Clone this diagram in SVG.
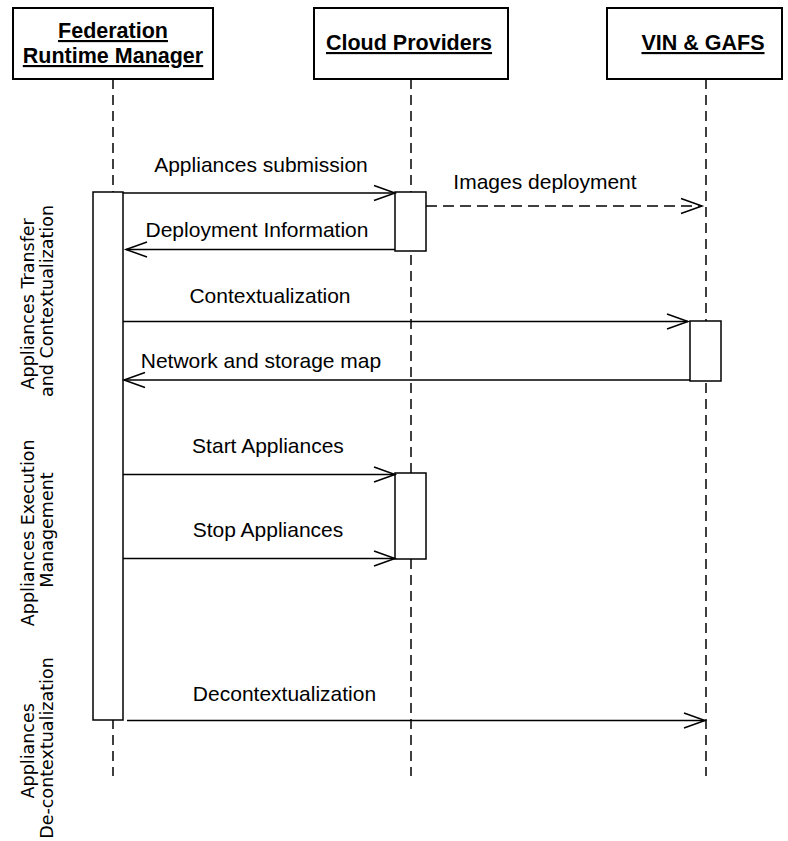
<svg xmlns="http://www.w3.org/2000/svg" width="788" height="841" viewBox="0 0 788 841">
  <style>
    .hdr { fill: #fff; stroke: #000; stroke-width: 2; }
    .hdr-text { font-family: "Liberation Sans", Arial, sans-serif; font-weight: bold; font-size: 21.5px; text-anchor: middle; text-decoration: underline; fill: #000; }
    .life { stroke: #000; stroke-width: 1.5; stroke-dasharray: 10 6; fill: none; }
    .act { fill: #fff; stroke: #000; stroke-width: 1.5; }
    .msg { stroke: #000; stroke-width: 1.5; fill: none; marker-end: url(#open); }
    .msg.dash { stroke-dasharray: 11 6; }
    .msg-text { font-family: "Liberation Sans", Arial, sans-serif; font-size: 21px; text-anchor: middle; fill: #000; }
    .phase { font-family: "DejaVu Sans", Verdana, sans-serif; font-size: 17.5px; text-anchor: middle; fill: #000; }
  </style>
  <defs>
    <marker id="open" markerUnits="userSpaceOnUse" markerWidth="26" markerHeight="20" refX="0" refY="0" viewBox="-24 -10 26 20" orient="auto" overflow="visible">
      <path d="M-21,-7.5 L0,0 L-21,7.5" fill="none" stroke="#000" stroke-width="1.5"/>
    </marker>
  </defs>

  <rect width="788" height="841" fill="#fff"/>

  <!-- lifelines -->
  <g id="lifelines">
    <line class="life" x1="113" y1="79" x2="113" y2="776"/>
    <line class="life" x1="411" y1="79" x2="411" y2="776"/>
    <line class="life" x1="706" y1="79" x2="706" y2="776"/>
  </g>

  <!-- participants -->
  <g id="frm">
    <rect class="hdr" x="13" y="8" width="200" height="71"/>
    <text class="hdr-text" x="113" y="38">Federation</text>
    <text class="hdr-text" x="113" y="63">Runtime Manager</text>
    <rect class="act" x="93" y="192" width="30" height="528"/>
  </g>
  <g id="cloud">
    <rect class="hdr" x="314" y="8" width="194" height="71"/>
    <text class="hdr-text" x="409" y="50">Cloud Providers</text>
    <rect class="act" x="395" y="192" width="31" height="59"/>
    <rect class="act" x="395" y="473" width="31" height="86"/>
  </g>
  <g id="vin">
    <rect class="hdr" x="607" y="8" width="175" height="71"/>
    <text class="hdr-text" x="703" y="50">VIN &amp; GAFS</text>
    <rect class="act" x="690" y="321" width="31" height="60"/>
  </g>

  <!-- messages -->
  <g id="connectors">
    <line class="msg" x1="123" y1="193" x2="395" y2="193"/>
    <line class="msg dash" x1="426" y1="206" x2="702" y2="206"/>
    <line class="msg" x1="395" y1="249.5" x2="126" y2="249.5"/>
    <line class="msg" x1="123" y1="321.5" x2="688" y2="321.5"/>
    <line class="msg" x1="690" y1="380" x2="124" y2="380"/>
    <line class="msg" x1="123" y1="474.5" x2="395" y2="474.5"/>
    <line class="msg" x1="123" y1="558.5" x2="395" y2="558.5"/>
    <line class="msg" x1="127" y1="720.5" x2="705" y2="720.5"/>
  </g>

  <g id="labels">
    <text class="msg-text" x="261" y="172">Appliances submission</text>
    <text class="msg-text" x="545" y="189">Images deployment</text>
    <text class="msg-text" x="257" y="237">Deployment Information</text>
    <text class="msg-text" x="270" y="303">Contextualization</text>
    <text class="msg-text" x="261" y="368">Network and storage map</text>
    <text class="msg-text" x="268" y="453">Start Appliances</text>
    <text class="msg-text" x="268" y="537">Stop Appliances</text>
    <text class="msg-text" x="284.5" y="701">Decontextualization</text>
  </g>

  <!-- phase annotations -->
  <g id="phases">
    <text class="phase" transform="translate(34,301) rotate(-90)">
      <tspan x="0" y="0">Appliances Transfer</tspan>
      <tspan x="0" y="19">and Contextualization</tspan>
    </text>
    <text class="phase" transform="translate(34,530) rotate(-90)">
      <tspan x="0" y="0">Appliances Execution</tspan>
      <tspan x="0" y="19">Management</tspan>
    </text>
    <text class="phase" transform="translate(34,748) rotate(-90)">
      <tspan x="0" y="0">Appliances</tspan>
      <tspan x="0" y="19">De-contextualization</tspan>
    </text>
  </g>
</svg>
